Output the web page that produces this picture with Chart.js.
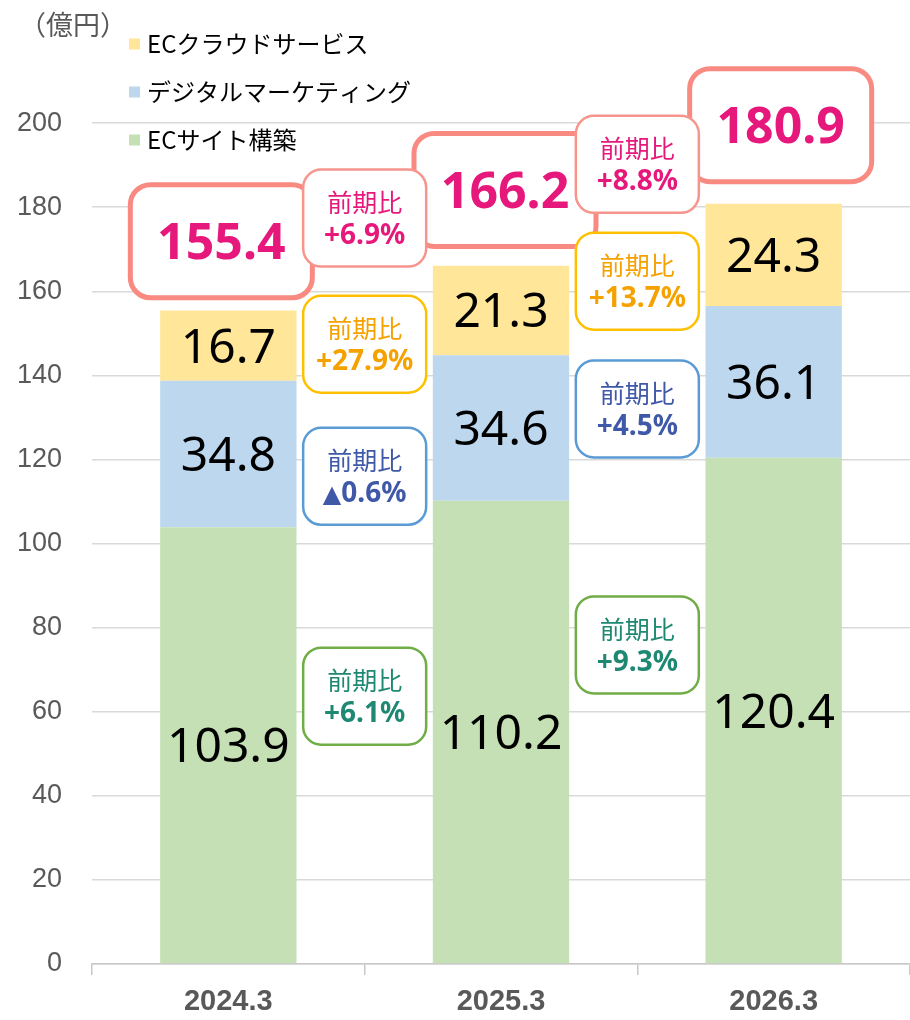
<!DOCTYPE html>
<html lang="ja">
<head>
<meta charset="utf-8">
<script src="https://cdn.jsdelivr.net/npm/chart.js@4.4.1/dist/chart.umd.min.js"></script>
<style>
  html, body { margin: 0; padding: 0; background: #fff; }
  #wrap { width: 910px; height: 1020px; }
</style>
</head>
<body>
<div id="wrap"><canvas id="chart" width="910" height="1020"></canvas></div>
<script>
const categories = ['2024.3', '2025.3', '2026.3'];

// 売上（億円）
const ecSite = [103.9, 110.2, 120.4];      // ECサイト構築
const digitalMkt = [34.8, 34.6, 36.1];    // デジタルマーケティング
const ecCloud = [16.7, 21.3, 24.3];       // ECクラウドサービス
const totals = [155.4, 166.2, 180.9];

// 前期比
const yoyTotal = ['+6.9%', '+8.8%'];
const yoyCloud = ['+27.9%', '+13.7%'];
const yoyDigital = ['▲0.6%', '+4.5%'];
const yoySite = ['+6.1%', '+9.3%'];

const seriesNames = ['ECクラウドサービス', 'デジタルマーケティング', 'ECサイト構築'];

const GREEN = '#C5E0B4';
const BLUE = '#BDD7EE';
const YELLOW = '#FFE699';

const LATIN = "'Noto Sans', 'Noto Sans CJK JP', sans-serif";
const CJK = "'Noto Sans CJK JP', 'Noto Sans', sans-serif";

// Kästchen-Stile für 前期比
const styles = {
  total:   { border: '#F7958D', text: '#E6187C' },
  cloud:   { border: '#FFC000', text: '#F5A200' },
  digital: { border: '#5B9BD5', text: '#3F58A8' },
  site:    { border: '#70AD47', text: '#1E8872' }
};

// Lage der Kästchen (y in Achsenwerten)
const yoyPlace = [
  { labels: yoyTotal,   style: 'total',   y: [177.4, 190.2] },
  { labels: yoyCloud,   style: 'cloud',   y: [147.4, 162.4] },
  { labels: yoyDigital, style: 'digital', y: [116.0, 132.0] },
  { labels: yoySite,    style: 'site',    y: [63.7, 75.9] }
];
const totalPlace = { dx: [-7, 4, 7], y: [171.9, 184.1, 199.5] };

function roundRect(ctx, x, y, w, h, r) {
  ctx.beginPath();
  ctx.moveTo(x + r, y);
  ctx.lineTo(x + w - r, y);
  ctx.arcTo(x + w, y, x + w, y + r, r);
  ctx.lineTo(x + w, y + h - r);
  ctx.arcTo(x + w, y + h, x + w - r, y + h, r);
  ctx.lineTo(x + r, y + h);
  ctx.arcTo(x, y + h, x, y + h - r, r);
  ctx.lineTo(x, y + r);
  ctx.arcTo(x, y, x + r, y, r);
  ctx.closePath();
}

// Wert mit kleinerem ▲ zeichnen
function drawYoy(ctx, txt, cx, baseY) {
  const mainFont = 'bold 28px ' + LATIN;
  if (!txt.startsWith('▲')) {
    ctx.font = mainFont;
    ctx.fillText(txt, cx, baseY);
    return;
  }
  const rest = txt.slice(1);
  const triFont = "24px 'DejaVu Sans', sans-serif";
  ctx.font = triFont;
  const wTri = ctx.measureText('▲').width;
  ctx.font = mainFont;
  const wRest = ctx.measureText(rest).width;
  const left = cx - (wTri + wRest) / 2;
  ctx.textAlign = 'left';
  ctx.font = triFont;
  ctx.fillText('▲', left, baseY);
  ctx.font = mainFont;
  ctx.fillText(rest, left + wTri, baseY);
  ctx.textAlign = 'center';
}

const overlay = {
  id: 'overlay',
  afterDraw(chart) {
    const ctx = chart.ctx;
    const xs = chart.scales.x;
    const ys = chart.scales.y;
    ctx.save();

    // Werte in den Segmenten
    ctx.fillStyle = '#000';
    ctx.font = '48px ' + LATIN;
    ctx.textAlign = 'center';
    ctx.textBaseline = 'alphabetic';
    chart.data.datasets.forEach((ds, di) => {
      const meta = chart.getDatasetMeta(di);
      meta.data.forEach((bar, i) => {
        const cy = (bar.y + bar.base) / 2;
        ctx.fillText(ds.data[i].toFixed(1), bar.x, cy + 17);
      });
    });

    // Summen-Kästchen
    totals.forEach((t, i) => {
      const cx = xs.getPixelForValue(i) + totalPlace.dx[i];
      const cy = ys.getPixelForValue(totalPlace.y[i]);
      const w = 182, h = 113;
      roundRect(ctx, cx - w / 2, cy - h / 2, w, h, 20);
      ctx.fillStyle = '#fff';
      ctx.fill();
      ctx.lineWidth = 5;
      ctx.strokeStyle = '#F98A82';
      ctx.stroke();
      ctx.fillStyle = '#E6187C';
      ctx.font = 'bold 50px ' + LATIN;
      ctx.fillText(t.toFixed(1), cx, cy + 18);
    });

    // 前期比-Kästchen
    yoyPlace.forEach(p => {
      const st = styles[p.style];
      p.labels.forEach((txt, g) => {
        const cx = (xs.getPixelForValue(g) + xs.getPixelForValue(g + 1)) / 2;
        const cy = ys.getPixelForValue(p.y[g]);
        const w = 123, h = 97;
        roundRect(ctx, cx - w / 2, cy - h / 2, w, h, 18);
        ctx.fillStyle = '#fff';
        ctx.fill();
        ctx.lineWidth = 2.5;
        ctx.strokeStyle = st.border;
        ctx.stroke();
        ctx.fillStyle = st.text;
        ctx.font = '25px ' + CJK;
        ctx.fillText('前期比', cx, cy - 16 + 10);
        drawYoy(ctx, txt, cx, cy + 16 + 10);
      });
    });

    // Legende
    const legColors = [YELLOW, BLUE, GREEN];
    const legY = [44, 92, 140];
    ctx.textAlign = 'left';
    seriesNames.forEach((name, i) => {
      ctx.fillStyle = legColors[i];
      ctx.fillRect(129, legY[i] - 5.5, 11, 11);
      ctx.fillStyle = '#000';
      ctx.font = '24px ' + CJK;
      ctx.fillText(name, 147, legY[i] + 9);
    });

    // Einheit
    ctx.fillStyle = '#595959';
    ctx.font = '27px ' + CJK;
    ctx.fillText('（億円）', 19, 35);

    ctx.restore();
  }
};

new Chart(document.getElementById('chart'), {
  type: 'bar',
  data: {
    labels: categories,
    datasets: [
      { label: seriesNames[2], data: ecSite, backgroundColor: GREEN },
      { label: seriesNames[1], data: digitalMkt, backgroundColor: BLUE },
      { label: seriesNames[0], data: ecCloud, backgroundColor: YELLOW }
    ]
  },
  options: {
    responsive: false,
    animation: false,
    devicePixelRatio: 1,
    barPercentage: 0.5,
    categoryPercentage: 1,
    layout: { padding: { top: 39, right: 0, bottom: 0, left: 0 } },
    plugins: {
      legend: { display: false },
      tooltip: { enabled: false }
    },
    scales: {
      x: {
        stacked: true,
        afterFit: (s) => { s.height = 56; },
        border: { color: '#C8C8C8', width: 1.5 },
        grid: {
          offset: true,
          drawOnChartArea: false,
          tickLength: 11,
          color: '#C8C8C8',
          lineWidth: 1.5
        },
        ticks: {
          color: '#595959',
          padding: 10,
          font: { family: "'Liberation Sans', Arial, sans-serif", size: 29, weight: 'bold' }
        }
      },
      y: {
        stacked: true,
        min: 0,
        max: 220,
        afterFit: (s) => { s.width = 92; },
        afterBuildTicks: (s) => { s.ticks = s.ticks.filter(t => t.value <= 200); },
        border: { display: false },
        grid: {
          color: '#D9D9D9',
          lineWidth: 1.5,
          drawTicks: true,
          tickLength: 26,
          tickColor: 'rgba(0,0,0,0)'
        },
        ticks: {
          stepSize: 20,
          padding: 4,
          color: '#595959',
          font: { family: "'Liberation Sans', Arial, sans-serif", size: 27 }
        }
      }
    }
  },
  plugins: [overlay]
});
</script>
</body>
</html>
